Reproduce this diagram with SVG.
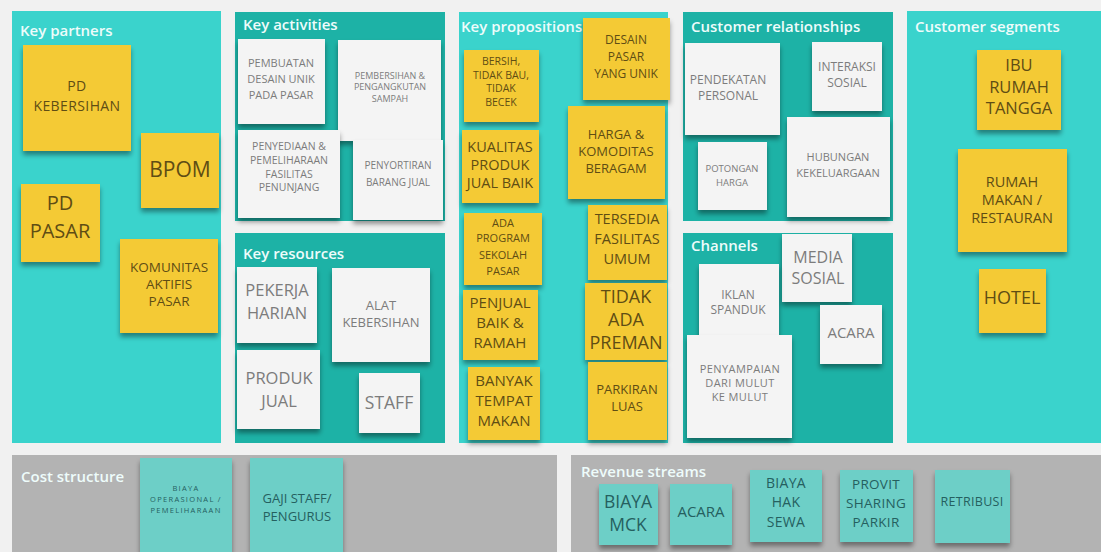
<svg xmlns="http://www.w3.org/2000/svg" width="1101" height="552" viewBox="0 0 1101 552">
<defs>
<filter id="sh" x="-20%" y="-20%" width="140%" height="150%">
<feDropShadow dx="0" dy="4" stdDeviation="2.5" flood-color="#000" flood-opacity="0.4"/>
</filter>
<style>
text{font-family:"Open Sans","Noto Sans","DejaVu Sans",sans-serif;text-anchor:middle}
.ttl{fill:#eefcfb;font-size:15px;font-weight:600;text-anchor:start}
.lt{fill:#3ad3cc}
.dk{fill:#1db2a6}
.gr{fill:#b3b3b3}
.y rect{fill:#f4ca34;filter:url(#sh)}
.y text{fill:#5f4d14}
.w rect{fill:#f4f4f4;filter:url(#sh)}
.w text{fill:#7c7c7c}
.t rect{fill:#6dcfc7;filter:url(#sh)}
.t text{fill:#25605f}
</style>
</defs>
<rect width="1101" height="552" fill="#f1f1f1"/>
<g id="panels">
<rect class="lt" x="12" y="11" width="209" height="432"/>
<rect class="dk" x="235" y="12" width="210" height="209"/>
<rect class="dk" x="235" y="233" width="210" height="210"/>
<rect class="lt" x="459" y="12" width="209" height="431"/>
<rect class="dk" x="683" y="12" width="210" height="209"/>
<rect class="dk" x="683" y="233" width="210" height="210"/>
<rect class="lt" x="907" y="11" width="194" height="432"/>
<rect class="gr" x="12" y="455" width="545" height="97"/>
<rect class="gr" x="571" y="455" width="530" height="97"/>
</g>
<g id="titles">
<text class="ttl" x="20" y="36">Key partners</text>
<text class="ttl" x="243" y="30">Key activities</text>
<text class="ttl" x="243" y="259">Key resources</text>
<text class="ttl" x="461" y="32">Key propositions</text>
<text class="ttl" x="691" y="32">Customer relationships</text>
<text class="ttl" x="691" y="251">Channels</text>
<text class="ttl" x="915" y="32">Customer segments</text>
<text class="ttl" x="21" y="482">Cost structure</text>
<text class="ttl" x="581" y="477">Revenue streams</text>
</g>
<g id="kp-pd-kebersihan" class="y"><rect x="23" y="45" width="108" height="106"/><text font-size="14" letter-spacing="0.4"><tspan x="77" y="91">PD</tspan><tspan x="77" y="111">KEBERSIHAN</tspan></text></g>
<g id="kp-bpom" class="y"><rect x="141" y="133" width="78" height="75"/><text font-size="21" x="180" y="177">BPOM</text></g>
<g id="kp-pd-pasar" class="y"><rect x="21" y="184" width="79" height="78"/><text font-size="20"><tspan x="60" y="210">PD</tspan><tspan x="60" y="238">PASAR</tspan></text></g>
<g id="kp-komunitas" class="y"><rect x="120" y="239" width="98" height="94"/><text font-size="13.5"><tspan x="169" y="272">KOMUNITAS</tspan><tspan x="169" y="289">AKTIFIS</tspan><tspan x="169" y="306">PASAR</tspan></text></g>

<g id="ka-pembuatan" class="w"><rect x="238" y="39" width="87" height="85"/><text font-size="11"><tspan x="281" y="67">PEMBUATAN</tspan><tspan x="281" y="83">DESAIN UNIK</tspan><tspan x="281" y="99">PADA PASAR</tspan></text></g>
<g id="ka-pembersihan" class="w"><rect x="338" y="40" width="103" height="101"/><text font-size="9"><tspan x="390" y="79">PEMBERSIHAN &amp;</tspan><tspan x="390" y="90">PENGANGKUTAN</tspan><tspan x="390" y="102">SAMPAH</tspan></text></g>
<g id="ka-penyediaan" class="w"><rect x="238" y="130" width="102" height="88"/><text font-size="10.5"><tspan x="289" y="150">PENYEDIAAN &amp;</tspan><tspan x="289" y="164">PEMELIHARAAN</tspan><tspan x="289" y="178">FASILITAS</tspan><tspan x="289" y="191">PENUNJANG</tspan></text></g>
<g id="ka-penyortiran" class="w"><rect x="353" y="140" width="90" height="80"/><text font-size="10"><tspan x="398" y="169">PENYORTIRAN</tspan><tspan x="398" y="186">BARANG JUAL</tspan></text></g>

<g id="kr-pekerja" class="w"><rect x="237" y="267" width="80" height="76"/><text font-size="16.5"><tspan x="277" y="296">PEKERJA</tspan><tspan x="277" y="319">HARIAN</tspan></text></g>
<g id="kr-alat" class="w"><rect x="332" y="268" width="98" height="94"/><text font-size="13"><tspan x="381" y="310">ALAT</tspan><tspan x="381" y="327">KEBERSIHAN</tspan></text></g>
<g id="kr-produk" class="w"><rect x="237" y="350" width="83" height="79"/><text font-size="16.5"><tspan x="279" y="384">PRODUK</tspan><tspan x="279" y="407">JUAL</tspan></text></g>
<g id="kr-staff" class="w"><rect x="359" y="373" width="61" height="60"/><text font-size="17.5" x="389" y="409">STAFF</text></g>

<g id="vp-bersih" class="y"><rect x="464" y="50" width="75" height="72"/><text font-size="10.5"><tspan x="501" y="65">BERSIH,</tspan><tspan x="501" y="79">TIDAK BAU,</tspan><tspan x="501" y="92">TIDAK</tspan><tspan x="501" y="106">BECEK</tspan></text></g>
<g id="vp-kualitas" class="y"><rect x="462" y="130" width="77" height="73"/><text font-size="14.5"><tspan x="500" y="152">KUALITAS</tspan><tspan x="500" y="170">PRODUK</tspan><tspan x="500" y="188">JUAL BAIK</tspan></text></g>
<g id="vp-program" class="y"><rect x="464" y="213" width="78" height="72"/><text font-size="11"><tspan x="503" y="227">ADA</tspan><tspan x="503" y="242">PROGRAM</tspan><tspan x="503" y="259">SEKOLAH</tspan><tspan x="503" y="275">PASAR</tspan></text></g>
<g id="vp-penjual" class="y"><rect x="463" y="290" width="75" height="70"/><text font-size="15"><tspan x="500" y="308">PENJUAL</tspan><tspan x="500" y="328">BAIK &amp;</tspan><tspan x="500" y="348">RAMAH</tspan></text></g>
<g id="vp-banyak" class="y"><rect x="468" y="367" width="72" height="73"/><text font-size="15"><tspan x="504" y="386">BANYAK</tspan><tspan x="504" y="406">TEMPAT</tspan><tspan x="504" y="426">MAKAN</tspan></text></g>
<g id="vp-desain" class="y"><rect x="583" y="18" width="87" height="82"/><text font-size="12"><tspan x="626" y="44">DESAIN</tspan><tspan x="626" y="61">PASAR</tspan><tspan x="626" y="78">YANG UNIK</tspan></text></g>
<g id="vp-harga" class="y"><rect x="568" y="106" width="97" height="93"/><text font-size="13"><tspan x="616" y="139">HARGA &amp;</tspan><tspan x="616" y="156">KOMODITAS</tspan><tspan x="616" y="173">BERAGAM</tspan></text></g>
<g id="vp-tersedia" class="y"><rect x="588" y="205" width="79" height="75"/><text font-size="14.5"><tspan x="627" y="224">TERSEDIA</tspan><tspan x="627" y="244">FASILITAS</tspan><tspan x="627" y="264">UMUM</tspan></text></g>
<g id="vp-preman" class="y"><rect x="585" y="283" width="82" height="77"/><text font-size="18"><tspan x="626" y="303">TIDAK</tspan><tspan x="626" y="326">ADA</tspan><tspan x="626" y="349">PREMAN</tspan></text></g>
<g id="vp-parkiran" class="y"><rect x="588" y="362" width="79" height="78"/><text font-size="13"><tspan x="627" y="394">PARKIRAN</tspan><tspan x="627" y="411">LUAS</tspan></text></g>

<g id="cr-pendekatan" class="w"><rect x="685" y="43" width="95" height="92"/><text font-size="12"><tspan x="728" y="84">PENDEKATAN</tspan><tspan x="728" y="100">PERSONAL</tspan></text></g>
<g id="cr-interaksi" class="w"><rect x="812" y="42" width="70" height="69"/><text font-size="12"><tspan x="847" y="71">INTERAKSI</tspan><tspan x="847" y="87">SOSIAL</tspan></text></g>
<g id="cr-potongan" class="w"><rect x="698" y="142" width="69" height="68"/><text font-size="9.5"><tspan x="732" y="172">POTONGAN</tspan><tspan x="732" y="186">HARGA</tspan></text></g>
<g id="cr-hubungan" class="w"><rect x="787" y="117" width="103" height="100"/><text font-size="11"><tspan x="838" y="161">HUBUNGAN</tspan><tspan x="838" y="177">KEKELUARGAAN</tspan></text></g>

<g id="ch-media" class="w"><rect x="782" y="234" width="70" height="68"/><text font-size="16"><tspan x="818" y="263">MEDIA</tspan><tspan x="818" y="284">SOSIAL</tspan></text></g>
<g id="ch-iklan" class="w"><rect x="699" y="264" width="80" height="73"/><text font-size="12"><tspan x="738" y="299">IKLAN</tspan><tspan x="738" y="314">SPANDUK</tspan></text></g>
<g id="ch-acara" class="w"><rect x="820" y="305" width="62" height="59"/><text font-size="15" x="851" y="338">ACARA</text></g>
<g id="ch-penyampaian" class="w"><rect x="687" y="335" width="105" height="103"/><text font-size="11" letter-spacing="0.4"><tspan x="740" y="373">PENYAMPAIAN</tspan><tspan x="740" y="387">DARI MULUT</tspan><tspan x="740" y="401">KE MULUT</tspan></text></g>

<g id="cs-ibu" class="y"><rect x="977" y="50" width="84" height="80"/><text font-size="16.5"><tspan x="1019" y="71">IBU</tspan><tspan x="1019" y="93">RUMAH</tspan><tspan x="1019" y="114">TANGGA</tspan></text></g>
<g id="cs-rumah-makan" class="y"><rect x="958" y="149" width="109" height="103"/><text font-size="14.5"><tspan x="1012" y="187">RUMAH</tspan><tspan x="1012" y="205">MAKAN /</tspan><tspan x="1012" y="223">RESTAURAN</tspan></text></g>
<g id="cs-hotel" class="y"><rect x="979" y="269" width="67" height="64"/><text font-size="18" x="1012" y="304">HOTEL</text></g>

<g id="co-biaya" class="t"><rect x="140" y="458" width="92" height="94"/><text font-size="7.5" letter-spacing="1.3"><tspan x="186" y="491">BIAYA</tspan><tspan x="186" y="502">OPERASIONAL /</tspan><tspan x="186" y="513">PEMELIHARAAN</tspan></text></g>
<g id="co-gaji" class="t"><rect x="250" y="458" width="93" height="94"/><text font-size="13"><tspan x="297" y="503">GAJI STAFF/</tspan><tspan x="297" y="521">PENGURUS</tspan></text></g>

<g id="rs-mck" class="t"><rect x="599" y="484" width="59" height="61"/><text font-size="17.5"><tspan x="628" y="508">BIAYA</tspan><tspan x="628" y="531">MCK</tspan></text></g>
<g id="rs-acara" class="t"><rect x="670" y="484" width="62" height="61"/><text font-size="15" x="701" y="517">ACARA</text></g>
<g id="rs-sewa" class="t"><rect x="750" y="470" width="72" height="72"/><text font-size="14" letter-spacing="0.3"><tspan x="786" y="488">BIAYA</tspan><tspan x="786" y="507">HAK</tspan><tspan x="786" y="527">SEWA</tspan></text></g>
<g id="rs-provit" class="t"><rect x="840" y="470" width="73" height="72"/><text font-size="13.5" letter-spacing="0.3"><tspan x="876" y="489">PROVIT</tspan><tspan x="876" y="508">SHARING</tspan><tspan x="876" y="527">PARKIR</tspan></text></g>
<g id="rs-retribusi" class="t"><rect x="935" y="470" width="75" height="73"/><text font-size="12.5" letter-spacing="0.3" x="972" y="506">RETRIBUSI</text></g>
<g id="connectors"></g>
</svg>
